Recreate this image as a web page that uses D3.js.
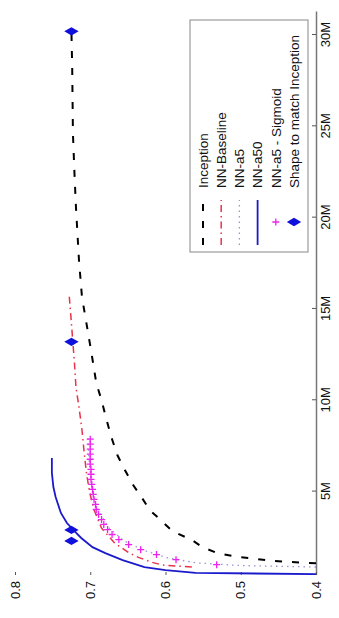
<!DOCTYPE html>
<html>
<head>
<meta charset="utf-8">
<script src="https://cdn.jsdelivr.net/npm/d3@7"></script>
<style>
body { margin: 0; background: #fff; }
text { font-family: "Liberation Sans", Arial, sans-serif; }
</style>
</head>
<body>
<div class="box"></div>
<script>
// parameters (millions) and accuracy
const inceptionM   = [1.07, 1.14, 1.2, 1.31, 1.42, 1.63, 1.96, 2.35, 2.84, 3.39, 3.99, 4.7, 5.36, 6.18, 7.0, 7.99, 9.03, 10.0, 10.95, 12.75, 13.96, 15.65, 17.68, 20.58, 22.45, 24.6, 28.25, 30.2];
const inceptionAcc = [0.4, 0.432, 0.455, 0.479, 0.504, 0.531, 0.551, 0.565, 0.591, 0.605, 0.621, 0.632, 0.643, 0.654, 0.664, 0.672, 0.679, 0.685, 0.692, 0.699, 0.704, 0.711, 0.715, 0.719, 0.721, 0.723, 0.724, 0.725];

const baselineM   = [0.87, 0.98, 1.14, 1.4, 1.63, 2.2, 3.0, 4.0, 5.0, 6.0, 7.11, 8.37, 9.63, 10.73, 12.04, 14.2, 15.76];
const baselineAcc = [0.565, 0.604, 0.619, 0.636, 0.648, 0.668, 0.685, 0.695, 0.701, 0.705, 0.708, 0.711, 0.715, 0.719, 0.721, 0.725, 0.728];

const a5M   = [0.87, 0.95, 1.1, 1.4, 1.8, 2.3, 3.0, 4.0, 5.0, 6.0, 7.0, 8.0];
const a5Acc = [0.4, 0.5, 0.56, 0.6, 0.63, 0.655, 0.675, 0.69, 0.697, 0.7, 0.702, 0.703];

const a50M   = [0.48, 0.55, 0.7, 0.87, 1.25, 1.63, 1.96, 2.46, 2.79, 3.28, 3.83, 4.7, 5.25, 6.02, 6.84];
const a50Acc = [0.4, 0.56, 0.6, 0.628, 0.657, 0.68, 0.697, 0.712, 0.72, 0.731, 0.739, 0.746, 0.749, 0.751, 0.751];

const sigM   = [1.0, 1.27, 1.55, 1.82, 2.1, 2.37, 2.65, 2.92, 3.2, 3.47, 3.75, 4.02, 4.3, 4.57, 4.85, 5.12, 5.4, 5.67, 5.95, 6.22, 6.5, 6.77, 7.05, 7.32, 7.6, 7.87];
const sigAcc = [0.532, 0.586, 0.612, 0.633, 0.649, 0.662, 0.671, 0.677, 0.682, 0.685, 0.689, 0.692, 0.693, 0.695, 0.696, 0.697, 0.698, 0.699, 0.699, 0.699, 0.7, 0.7, 0.7, 0.7, 0.7, 0.7];

const shapeM   = [2.3, 2.9, 13.2, 30.2];
const shapeAcc = [0.725, 0.725, 0.725, 0.725];

const xTicks = [5, 10, 15, 20, 25, 30];
const xTickLabels = ['5M', '10M', '15M', '20M', '25M', '30M'];
const yTicks = [0.4, 0.5, 0.6, 0.7, 0.8];

const legendNames = ['Inception', 'NN-Baseline', 'NN-a5', 'NN-a50', 'NN-a5 - Sigmoid', 'Shape to match Inception'];

const svg = d3.select('.box')
              .append('svg')
              .attr('width', 339)
              .attr('height', 618)
              .style('background', '#fff');

// whole figure is turned a quarter turn counter-clockwise
const graph = svg.append('g')
                 .attr('transform', 'translate(0, 618) rotate(-90)');

const x = d3.scaleLinear().domain([0.433, 31.26]).range([43, 606]);
const y = d3.scaleLinear().domain([0.4, 0.8]).range([316, 15]);

graph.append('clipPath').attr('id', 'plotclip')
     .append('rect').attr('x', 43).attr('y', 15).attr('width', 563).attr('height', 301);

// axes
const axeX = d3.axisBottom(x)
               .tickValues(xTicks)
               .tickFormat((d, i) => xTickLabels[i])
               .tickSizeInner(-4)
               .tickSizeOuter(0)
               .tickPadding(5);
const axeY = d3.axisLeft(y)
               .tickValues(yTicks)
               .tickFormat(d3.format('.1f'))
               .tickSizeInner(-3)
               .tickSizeOuter(0)
               .tickPadding(6);

const gx = graph.append('g').attr('transform', 'translate(0, 316)').call(axeX);
gx.select('.domain').attr('stroke', '#777').attr('stroke-width', 1.5);
gx.selectAll('.tick line').attr('stroke', '#555');
gx.selectAll('text').style('font-size', '13px').attr('fill', '#111');

const gy = graph.append('g').attr('transform', 'translate(43, 0)').call(axeY);
gy.select('.domain').remove();
gy.selectAll('.tick line').attr('stroke', '#555');
gy.selectAll('text').style('font-size', '13px').attr('fill', '#111');

const plot = graph.append('g').attr('clip-path', 'url(#plotclip)');

const line = d3.line().x(d => x(d[0])).y(d => y(d[1]));
const zip = (a, b) => a.map((v, i) => [v, b[i]]);

const series = [
  {m: inceptionM, acc: inceptionAcc, color: '#000', width: 2, dash: '7,10'},
  {m: baselineM, acc: baselineAcc, color: '#e8344a', width: 1.5, dash: '7,4,1.5,4'},
  {m: a5M, acc: a5Acc, color: '#9a90d6', width: 1.3, dash: '1.5,4'},
  {m: a50M, acc: a50Acc, color: '#1a1acc', width: 1.8, dash: null}
];

series.forEach(s => {
  plot.append('path')
      .attr('d', line(zip(s.m, s.acc)))
      .attr('fill', 'none')
      .attr('stroke', s.color)
      .attr('stroke-width', s.width)
      .attr('stroke-dasharray', s.dash);
});

const plus = 'M-3.5,0H3.5M0,-3.5V3.5';
plot.selectAll('.sig')
    .data(zip(sigM, sigAcc))
    .enter()
    .append('path')
    .attr('class', 'sig')
    .attr('d', plus)
    .attr('transform', d => `translate(${x(d[0])}, ${y(d[1])})`)
    .attr('fill', 'none')
    .attr('stroke', '#ee22ee')
    .attr('stroke-width', 1.3);

const diamond = d3.symbol().type(d3.symbolDiamond).size(60);
graph.selectAll('.shape')
     .data(zip(shapeM, shapeAcc))
     .enter()
     .append('path')
     .attr('class', 'shape')
     .attr('d', diamond)
     .attr('transform', d => `translate(${x(d[0])}, ${y(d[1])})`)
     .attr('fill', '#1010dd');

// legend
const legend = graph.append('g');
legend.append('rect')
      .attr('x', 366).attr('y', 190)
      .attr('width', 232).attr('height', 118)
      .attr('fill', '#fff')
      .attr('stroke', '#888')
      .attr('stroke-width', 1);

legendNames.forEach((name, i) => {
  const ly = 203 + i * 18.2;
  if (i < 4) {
    const s = series[i];
    legend.append('line')
          .attr('x1', 373).attr('x2', 418)
          .attr('y1', ly).attr('y2', ly)
          .attr('stroke', s.color)
          .attr('stroke-width', s.width)
          .attr('stroke-dasharray', s.dash);
  } else if (i === 4) {
    legend.append('path').attr('d', plus)
          .attr('transform', `translate(396, ${ly})`)
          .attr('fill', 'none').attr('stroke', '#ee22ee').attr('stroke-width', 1.3);
  } else {
    legend.append('path').attr('d', diamond)
          .attr('transform', `translate(396, ${ly})`)
          .attr('fill', '#1010dd');
  }
  legend.append('text')
        .attr('x', 430).attr('y', ly)
        .attr('dy', '0.35em')
        .style('font-size', '13.5px')
        .attr('fill', '#111')
        .text(name);
});
</script>
</body>
</html>
